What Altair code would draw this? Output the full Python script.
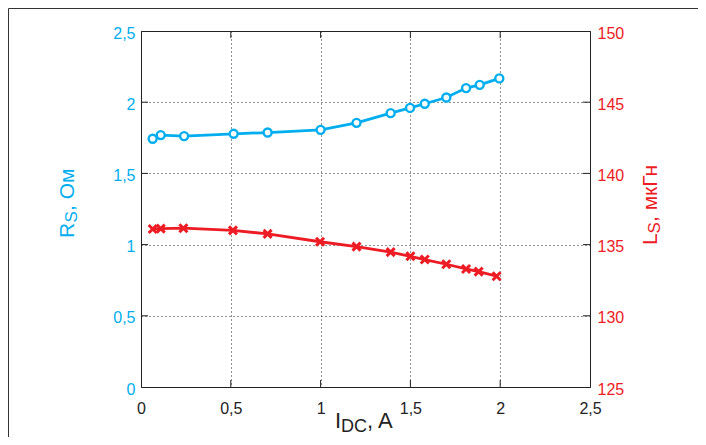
import altair as alt
import pandas as pd

# ---- data ----
I_R = [0.065, 0.11, 0.24, 0.516, 0.705, 1.0, 1.2, 1.39, 1.498, 1.58, 1.70, 1.81, 1.886, 1.995]
R_S = [1.743, 1.769, 1.762, 1.778, 1.787, 1.806, 1.855, 1.923, 1.96, 1.989, 2.033, 2.099, 2.122, 2.167]
I_L = [0.065, 0.11, 0.236, 0.512, 0.705, 0.997, 1.2, 1.39, 1.50, 1.58, 1.70, 1.81, 1.88, 1.98]
L_S = [136.1, 136.12, 136.15, 136.0, 135.75, 135.2, 134.86, 134.47, 134.18, 133.95, 133.62, 133.29, 133.1, 132.78]
X_TICKS = [0, 0.5, 1, 1.5, 2, 2.5]
R_TICKS = [0, 0.5, 1, 1.5, 2, 2.5]
L_TICKS = [125, 130, 135, 140, 145, 150]

W, H = 449, 356
BLUE = "#00aeef"
RED = "#ed1c24"
INK = "#222222"
FONT = "Liberation Sans"
comma = "replace(format(datum.value, '~r'), '.', ',')"

x_scale = alt.Scale(domain=[0, 2.5], nice=False, zero=False)
r_scale = alt.Scale(domain=[0, 2.5], nice=False, zero=False)
l_scale = alt.Scale(domain=[125, 150], nice=False, zero=False)

x_axis = alt.Axis(values=X_TICKS, labelExpr=comma, ticks=False, domain=False, grid=True,
                  gridDash=[1, 3], gridColor=INK, gridOpacity=1, gridWidth=1,
                  labelColor=INK, labelFontSize=16, labelFont=FONT, labelPadding=13,
                  labelFlush=False, labelOverlap=False, title=None)
r_axis = alt.Axis(orient="left", values=R_TICKS, labelExpr=comma, ticks=False, domain=False,
                  grid=True, gridDash=[1, 3], gridColor=INK, gridOpacity=1, gridWidth=1,
                  labelColor=BLUE, labelFontSize=16, labelFont=FONT, labelPadding=6,
                  labelOffset=2, labelFlush=False, labelOverlap=False, title=None)
l_axis = alt.Axis(orient="right", values=L_TICKS, ticks=False, domain=False, grid=False,
                  labelColor=RED, labelFontSize=16, labelFont=FONT, labelPadding=7,
                  labelOffset=2, labelFlush=False, labelOverlap=False, title=None)

dfR = pd.DataFrame({"I": I_R, "R": R_S})
dfL = pd.DataFrame({"I": I_L, "L": L_S})
one = pd.DataFrame({"k": [0]})

X = lambda f: alt.X(f, scale=x_scale, axis=x_axis)

frame = alt.Chart(one).mark_rect(fill="transparent", stroke="#333333", strokeWidth=1).encode(
    x=alt.value(-132.5), x2=alt.value(W + 300), y=alt.value(-22.5), y2=alt.value(H + 300))

blue_line = alt.Chart(dfR).mark_line(color=BLUE, strokeWidth=2.8).encode(
    x=X("I:Q"), y=alt.Y("R:Q", scale=r_scale, axis=r_axis))
blue_pts = alt.Chart(dfR).mark_point(shape="circle", filled=True, fill="white", stroke=BLUE,
                                     strokeWidth=2.4, size=64, opacity=1).encode(
    x=X("I:Q"), y=alt.Y("R:Q", scale=r_scale, axis=None))

red_line = alt.Chart(dfL).mark_line(color=RED, strokeWidth=2.8).encode(
    x=X("I:Q"), y=alt.Y("L:Q", scale=l_scale, axis=l_axis))
red_pts = alt.Chart(dfL).mark_point(shape="M-1,-1L1,1M-1,1L1,-1", filled=False, stroke=RED,
                                    strokeWidth=3, size=64, opacity=1).encode(
    x=X("I:Q"), y=alt.Y("L:Q", scale=l_scale, axis=None))

xt = pd.DataFrame({"v": X_TICKS[1:-1]})
rt = pd.DataFrame({"v": R_TICKS[1:-1]})
lt = pd.DataFrame({"v": L_TICKS[1:-1]})
tick_b = alt.Chart(xt).mark_rule(color=INK, strokeWidth=1).encode(
    x=X("v:Q"), y=alt.value(H), y2=alt.value(H - 7))
tick_t = alt.Chart(xt).mark_rule(color=INK, strokeWidth=1).encode(
    x=X("v:Q"), y=alt.value(0), y2=alt.value(7))
tick_l = alt.Chart(rt).mark_rule(color=INK, strokeWidth=1).encode(
    y=alt.Y("v:Q", scale=r_scale, axis=None), x=alt.value(0), x2=alt.value(7))
tick_r = alt.Chart(lt).mark_rule(color=INK, strokeWidth=1).encode(
    y=alt.Y("v:Q", scale=l_scale, axis=None), x=alt.value(W - 7), x2=alt.value(W))


def txt(s, x, y, size, color, angle=0):
    kw = dict(text=s, align="left", baseline="alphabetic", fontSize=size, font=FONT, color=color)
    if angle:
        kw["angle"] = angle
    return alt.Chart(one).mark_text(**kw).encode(x=alt.value(x), y=alt.value(y))


# title pieces (positions relative to the plot origin)
titles = [
    txt("R", -67.5, 207, 21, BLUE, 270),
    txt("S", -64.5, 191.5, 17, BLUE, 270),
    txt(", Ом", -67.5, 180, 21, BLUE, 270),
    txt("L", 516, 214, 21, RED, 270),
    txt("S", 519, 202.5, 17, RED, 270),
    txt(", мкГн", 516, 191, 21, RED, 270),
    txt("I", 194, 397, 22, INK),
    txt("DC", 200, 401, 18, INK),
    txt(", A", 226, 397, 22, INK),
]

chart = alt.layer(frame, blue_line, red_line, tick_b, tick_t, tick_l, tick_r,
                  blue_pts, red_pts, *titles).resolve_scale(y="independent").properties(
    width=W, height=H,
    autosize=alt.AutoSizeParams(type="none"),
    padding={"left": 133, "top": 23, "right": 108, "bottom": 50},
    background="white",
).configure_view(stroke=INK, strokeWidth=1)

chart.save("out.html", embed_options={"renderer": "svg", "actions": False})
